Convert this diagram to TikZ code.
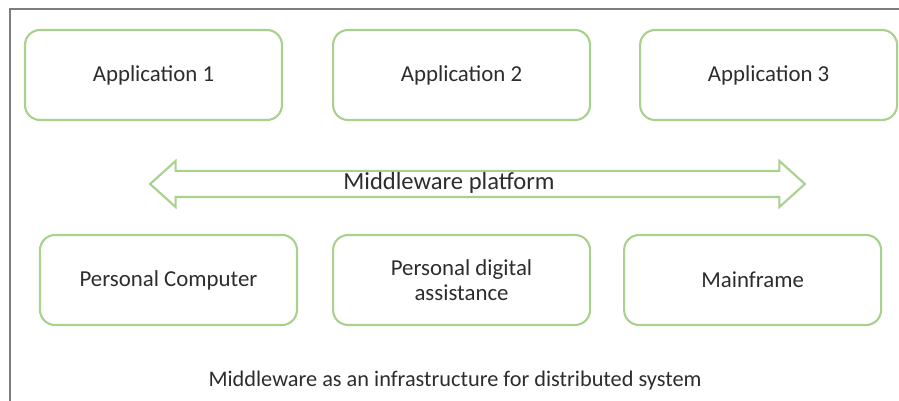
\documentclass[tikz,border=0pt]{standalone}
\usepackage{fontspec}
\setmainfont{Carlito}
\usetikzlibrary{positioning,shapes.arrows}
\definecolor{boxgreen}{RGB}{169,209,142}
\definecolor{txtgrey}{RGB}{45,45,45}
\definecolor{framegrey}{RGB}{125,125,125}

\begin{document}
\begin{tikzpicture}[
  x=0.02cm, y=-0.02cm,
  box/.style={draw=boxgreen, line width=1.2pt, rounded corners=0.3cm,
    minimum width=5.14cm, minimum height=1.8cm, align=center,
    text=txtgrey, font=\fontsize{13}{14}\selectfont},
  label/.style={text=txtgrey, font=\fontsize{13}{14}\selectfont},
]
\useasboundingbox (0,0) rectangle (899,401);
\draw[framegrey, line width=1.2pt] (10,401) -- (10,9) -- (899,9);

% applications
\node[box] (app1) at (153.5,75) {Application 1};
\node[box, right=0.98cm of app1] (app2) {Application 2};
\node[box, right=0.96cm of app2] (app3) {Application 3};

% middleware
\node[double arrow, draw=boxgreen, line width=1.2pt, minimum height=13.1cm,
  minimum width=0.88cm, double arrow head extend=0.2cm,
  double arrow tip angle=84, inner xsep=0pt, inner ysep=0.24cm] (mw) at (477.5,184) {};
\node[label, font=\fontsize{14}{16}\selectfont] (mwlabel) at (449,183) {Middleware platform};

% machines
\node[box] (pc) at (168.5,280) {Personal Computer};
\node[box, right=0.68cm of pc] (pda) {Personal digital\\assistance};
\node[box, right=0.64cm of pda] (main) {Mainframe};

\node[label, font=\fontsize{12.7}{14}\selectfont] (caption) at (455,381)
  {Middleware as an infrastructure for distributed system};
\end{tikzpicture}
\end{document}
